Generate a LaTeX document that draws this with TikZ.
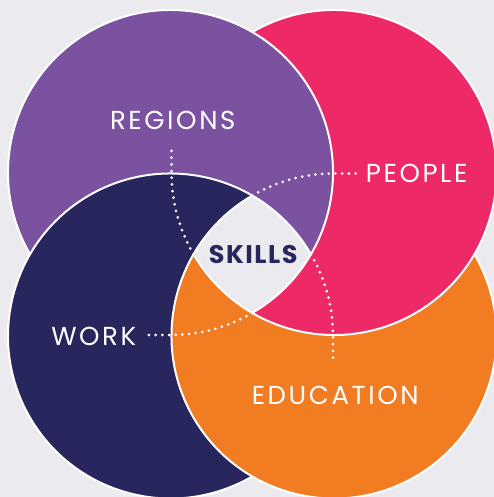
\documentclass[tikz,border=0pt]{standalone}
\usepackage{fontspec}
\setmainfont{Poppins}
\newfontfamily\lblfont[LetterSpace=10]{Poppins}
\newfontfamily\ctrfont[LetterSpace=6]{Poppins}
\definecolor{bg}{HTML}{EBEBEF}
\definecolor{purp}{HTML}{7B52A0}
\definecolor{pinkc}{HTML}{EE2967}
\definecolor{navy}{HTML}{27275D}
\definecolor{orng}{HTML}{F27C22}
\begin{document}
\begin{tikzpicture}[x=1pt,y=1pt,
  edge/.style={white, line width=2pt},
  dotline/.style={white, line width=3pt, line cap=round, dash pattern=on 0pt off 6.7pt},
  lbl/.style={text=white, font=\lblfont\fontsize{26}{26}\selectfont, inner sep=0pt, anchor=base},
  ctr/.style={text=navy, font=\ctrfont\fontsize{25.5}{26}\selectfont\bfseries, inner sep=0pt, anchor=base}]
\def\h{81.75}
\def\R{162.5pt}
\fill[bg] (-252.25,-242.75) rectangle (241.75,254.25);
\useasboundingbox (-252.25,-242.75) rectangle (241.75,254.25);
\coordinate (P) at (-\h,\h);
\coordinate (K) at (\h,\h);
\coordinate (N) at (-\h,-\h);
\coordinate (O) at (\h,-\h);
% visible regions (lunes)
\fill[purp] (P) ++(-30.2:\R) arc[start angle=-30.2, end angle=210.2, radius=\R]
   arc[start angle=149.8, end angle=30.2, radius=\R] -- cycle;
\fill[pinkc] (K) ++(-120.2:\R) arc[start angle=-120.2, end angle=120.2, radius=\R]
   arc[start angle=59.8, end angle=-59.8, radius=\R] -- cycle;
\fill[orng] (O) ++(-210.2:\R) arc[start angle=-210.2, end angle=30.2, radius=\R]
   arc[start angle=-30.2, end angle=-149.8, radius=\R] -- cycle;
\fill[navy] (N) ++(59.8:\R) arc[start angle=59.8, end angle=300.2, radius=\R]
   arc[start angle=239.8, end angle=120.2, radius=\R] -- cycle;
% white outlines
\draw[edge] (P) ++(-59.8:\R) arc[start angle=-59.8, end angle=210.2, radius=\R];
\draw[edge] (K) ++(-149.8:\R) arc[start angle=-149.8, end angle=120.2, radius=\R];
\draw[edge] (O) ++(-239.8:\R) arc[start angle=-239.8, end angle=30.2, radius=\R];
\draw[edge] (N) ++(-329.8:\R) arc[start angle=-329.8, end angle=-59.8, radius=\R];
% labels
\node[lbl] (regions) at (-79.5,124.25) {REGIONS};
\node[lbl, anchor=base west] (people) at (113.5,71.25) {PEOPLE};
\node[lbl] (work) at (-158.5,-91.75) {WORK};
\node[lbl] (education) at (83,-149.75) {EDUCATION};
\node[ctr] (skills) at (1,-9.75) {SKILLS};
% dotted leaders
\draw[dotline] (K) ++(210.2:\R) arc[start angle=210.2, end angle=180, radius=\R] -- ++(0,24);
\draw[dotline] (O) ++(120.2:\R) arc[start angle=120.2, end angle=90, radius=\R] -- ++(24,0);
\draw[dotline] (N) ++(30.2:\R) arc[start angle=30.2, end angle=0, radius=\R] -- ++(0,-24);
\draw[dotline] (P) ++(-59.8:\R) arc[start angle=-59.8, end angle=-90, radius=\R] -- ++(-24,0);
\end{tikzpicture}
\end{document}
